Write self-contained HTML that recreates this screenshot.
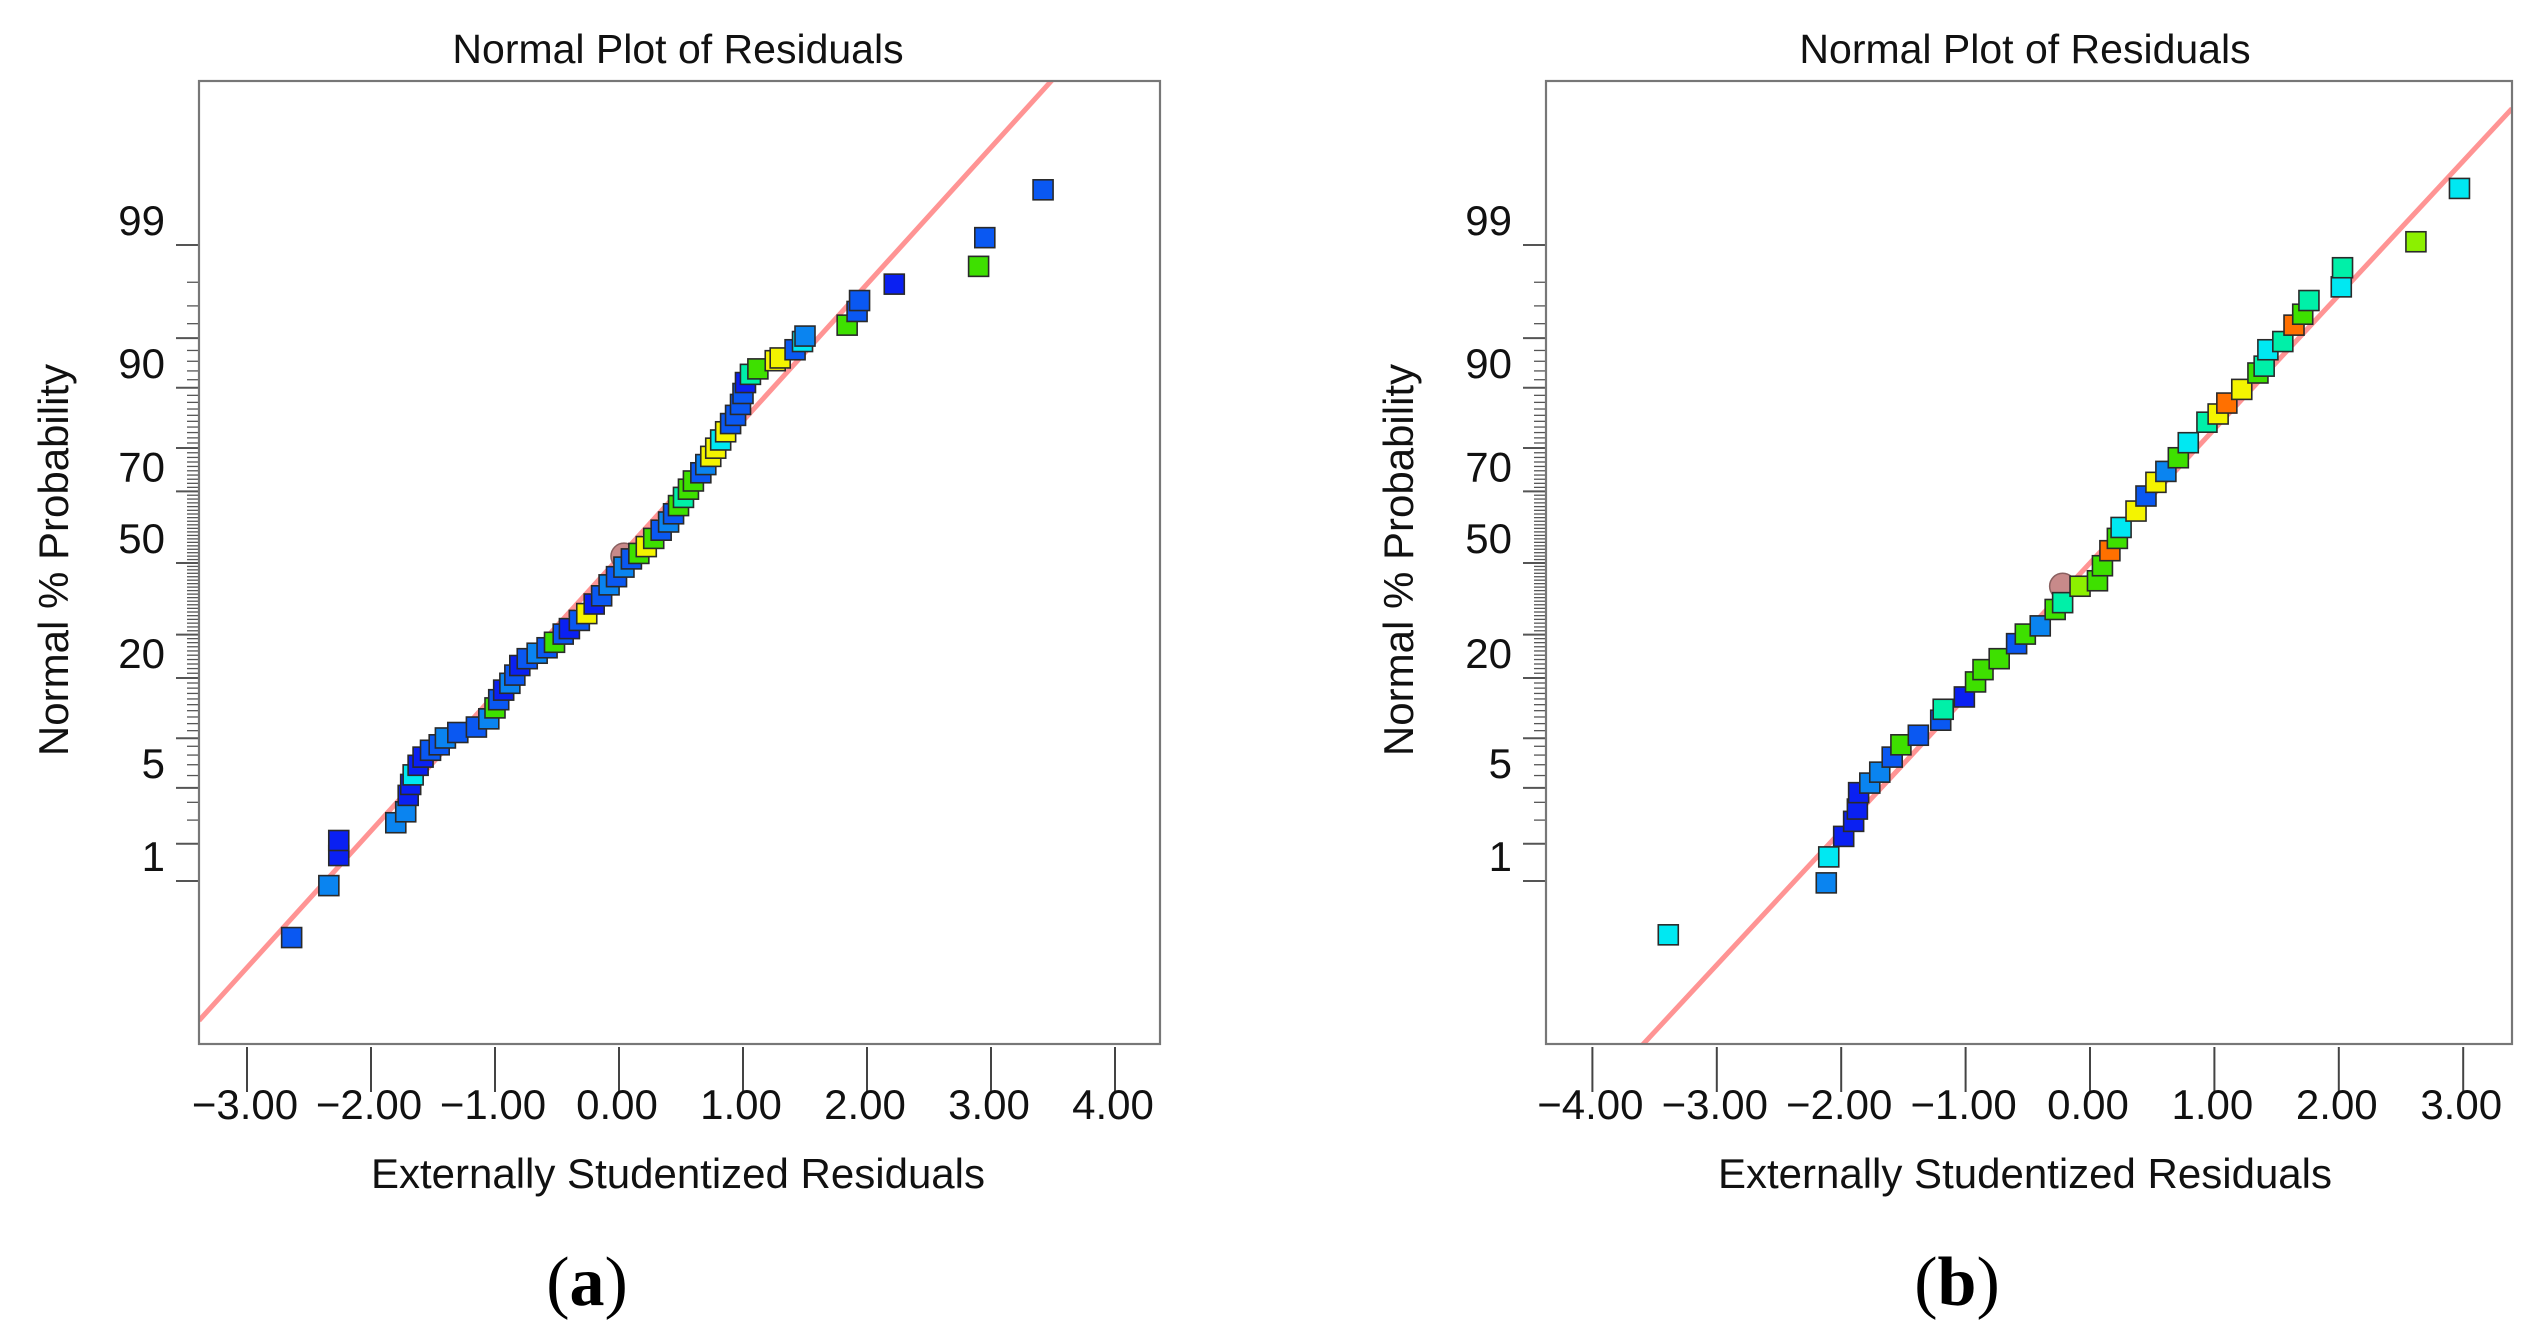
<!DOCTYPE html>
<html><head><meta charset="utf-8">
<style>
html,body{margin:0;padding:0;background:#fff;}
svg{display:block;font-family:"Liberation Sans","DejaVu Sans",sans-serif;}
</style></head>
<body>
<svg id="fig" width="2542" height="1335" viewBox="0 0 2542 1335" xmlns="http://www.w3.org/2000/svg">
<rect width="2542" height="1335" fill="#fff"/>
</svg>
<script>
// ---- data ----
const xTicksA = [-3, -2, -1, 0, 1, 2, 3, 4];
const xTicksB = [-4, -3, -2, -1, 0, 1, 2, 3];
const probTicks = [1,2,3,4,5,6,7,8,9,10,11,12,13,14,15,16,17,18,19,20,21,22,23,24,25,26,27,28,29,30,31,32,33,34,35,36,37,38,39,40,41,42,43,44,45,46,47,48,49,50,51,52,53,54,55,56,57,58,59,60,61,62,63,64,65,66,67,68,69,70,71,72,73,74,75,76,77,78,79,80,81,82,83,84,85,86,87,88,89,90,91,92,93,94,95,96,97,98,99];
const probMajor = [1,2,5,10,20,30,50,70,80,90,95,99];
const probLabels = [1,5,20,50,70,90,99];

const residA = [-2.64,-2.34,-2.26,-2.26,-1.80,-1.72,-1.70,-1.68,-1.66,-1.62,-1.58,-1.52,-1.45,-1.40,-1.30,-1.15,-1.05,-1.00,-0.97,-0.93,-0.88,-0.84,-0.80,-0.74,-0.66,-0.58,-0.52,-0.45,-0.40,-0.32,-0.26,-0.20,-0.14,-0.08,-0.02,0.04,0.10,0.16,0.22,0.28,0.34,0.40,0.44,0.48,0.52,0.56,0.60,0.66,0.70,0.74,0.78,0.82,0.86,0.90,0.94,0.98,1.00,1.02,1.06,1.12,1.26,1.30,1.42,1.48,1.50,1.84,1.92,1.94,2.22,2.90,2.95,3.42];
const scoreA = [-2.74,-2.36,-2.14,-2.03,-1.90,-1.82,-1.70,-1.62,-1.55,-1.48,-1.42,-1.37,-1.33,-1.28,-1.24,-1.20,-1.14,-1.06,-1.00,-0.93,-0.88,-0.82,-0.75,-0.70,-0.66,-0.62,-0.58,-0.52,-0.48,-0.42,-0.37,-0.30,-0.24,-0.16,-0.10,-0.03,0.03,0.07,0.12,0.18,0.24,0.30,0.36,0.42,0.48,0.54,0.60,0.66,0.72,0.78,0.84,0.90,0.96,1.02,1.08,1.16,1.24,1.32,1.38,1.42,1.48,1.50,1.56,1.62,1.66,1.74,1.84,1.92,2.04,2.17,2.38,2.73];
const colorA = ['B1','B2','B0','B0','B2','B2','B0','B0','C','B0','B0','B1','B1','B2','B1','B1','B2','G','B1','B0','B2','B1','B0','B1','B2','B1','G','B1','B0','B1','Y','B0','B1','B2','B1','B2','B1','G','Y','G','B1','B2','B1','G','T','G','G','B1','B2','Y','Y','C','Y','B1','B1','B1','B1','B0','T','G','Y','Y','B1','C','B2','G','B1','B1','B0','G','B1','B1'];

const residB = [-3.39,-2.12,-2.10,-1.98,-1.90,-1.87,-1.86,-1.77,-1.69,-1.59,-1.52,-1.38,-1.20,-1.18,-1.01,-0.92,-0.86,-0.73,-0.59,-0.52,-0.40,-0.28,-0.22,-0.08,0.06,0.10,0.16,0.22,0.25,0.37,0.45,0.53,0.61,0.71,0.79,0.94,1.03,1.10,1.22,1.35,1.40,1.43,1.55,1.64,1.71,1.76,2.02,2.03,2.62,2.97];
const scoreB = [-2.72,-2.34,-2.15,-2.00,-1.89,-1.80,-1.68,-1.61,-1.53,-1.42,-1.33,-1.26,-1.15,-1.07,-0.98,-0.87,-0.78,-0.70,-0.59,-0.52,-0.46,-0.34,-0.29,-0.17,-0.13,-0.02,0.09,0.18,0.26,0.38,0.49,0.59,0.67,0.77,0.88,1.03,1.09,1.17,1.27,1.39,1.44,1.56,1.62,1.74,1.82,1.92,2.02,2.16,2.35,2.74];
const colorB = ['C','B2','C','B0','B0','B0','B0','B2','B2','B1','G','B1','B1','T','B0','G','G','G','B1','G','B2','G','T','YG','G','G','O','G','C','Y','B1','Y','B2','G','C','T','Y','O','Y','G','T','C','T','O','G','T','C','T','YG','C'];

const centerA = [0.04, 0.05];
const centerB = [-0.22, -0.17];
const lineA = [1.0, 0.04];   // slope, intercept (normal score vs residual)
const lineB = [0.98, 0.0];

// ---- rendering ----
const NS = 'http://www.w3.org/2000/svg';
const svg = document.getElementById('fig');
const palette = {B0:'#0a20f2',B1:'#0a58f2',B2:'#0a84f0',C:'#00e8f2',T:'#00f0a8',G:'#3ee000',Y:'#f4f400',O:'#ff7000',YG:'#8cf000'};
function mk(tag, attrs, parent){const e=document.createElementNS(NS,tag);for(const k in attrs)e.setAttribute(k,attrs[k]);(parent||svg).appendChild(e);return e;}

function invNorm(p){
  const a=[-39.69683028665376,220.9460984245205,-275.9285104469687,138.3577518672690,-30.66479806614716,2.506628277459239];
  const b=[-54.47609879822406,161.5858368580409,-155.6989798598866,66.80131188771972,-13.28068155288572];
  const c=[-0.007784894002430293,-0.3223964580411365,-2.400758277161838,-2.549732539343734,4.374664141464968,2.938163982698783];
  const d=[0.007784695709041462,0.3224671290700398,2.445134137142996,3.754408661907416];
  const pl=0.02425;let q,r;
  if(p<pl){q=Math.sqrt(-2*Math.log(p));return (((((c[0]*q+c[1])*q+c[2])*q+c[3])*q+c[4])*q+c[5])/((((d[0]*q+d[1])*q+d[2])*q+d[3])*q+1);}
  if(p>1-pl){q=Math.sqrt(-2*Math.log(1-p));return -(((((c[0]*q+c[1])*q+c[2])*q+c[3])*q+c[4])*q+c[5])/((((d[0]*q+d[1])*q+d[2])*q+d[3])*q+1);}
  q=p-0.5;r=q*q;return (((((a[0]*r+a[1])*r+a[2])*r+a[3])*r+a[4])*r+a[5])*q/(((((b[0]*r+b[1])*r+b[2])*r+b[3])*r+b[4])*r+1);
}

function drawPanel(cfg){
  const g = mk('g',{});
  
  
  const yS = z => 563 - 136.7*z;
  const xS = r => cfg.x0 + cfg.unit*r;
  const clipId = cfg.name+'-clip';
  const cp = mk('clipPath',{id:clipId},g);
  mk('rect',{x:cfg.left,y:cfg.top,width:cfg.right-cfg.left,height:cfg.bottom-cfg.top},cp);

  const title = mk('text',{x:cfg.titleX,y:63,'text-anchor':'middle','font-size':41,fill:'#111'},g);
  title.textContent='Normal Plot of Residuals';
  
  

  probTicks.forEach(p=>{
    const y=yS(invNorm(p/100));
    const major=probMajor.includes(p);
    const t=mk('line',{x1:cfg.left-(major?23:12),x2:cfg.left,y1:y,y2:y,stroke:'#555','stroke-width':major?2:1.3},g);
    
    
  });
  probLabels.forEach(p=>{
    const y=yS(invNorm(p/100))-25;
    const t=mk('text',{x:cfg.left-34,y:y+15,'text-anchor':'end','font-size':42,fill:'#111'},g);
    t.textContent=String(p);
    
    
  });
  cfg.ticks.forEach(v=>{
    const x=xS(v);
    const t=mk('line',{x1:x,x2:x,y1:cfg.bottom+3,y2:cfg.bottom+48,stroke:'#444','stroke-width':2},g);
    
    
    const l=mk('text',{x:x-2,y:1119,'text-anchor':'middle','font-size':42,fill:'#111'},g);
    l.textContent=(v<0?'\u2212':'')+Math.abs(v).toFixed(2);
    
    
  });
  const xt=mk('text',{x:cfg.titleX,y:1188,'text-anchor':'middle','font-size':42,fill:'#111'},g);
  xt.textContent='Externally Studentized Residuals';
  
  
  const yt=mk('text',{x:0,y:0,'text-anchor':'middle','font-size':42,fill:'#111',transform:`translate(${cfg.yTitleX},560) rotate(-90)`},g);
  yt.textContent='Normal % Probability';
  
  

  const rL=(cfg.left-cfg.x0)/cfg.unit, rR=(cfg.right-cfg.x0)/cfg.unit;
  const ln=mk('line',{x1:xS(rL),y1:yS(cfg.line[0]*rL+cfg.line[1]),x2:xS(rR),y2:yS(cfg.line[0]*rR+cfg.line[1]),stroke:'#ff9494','stroke-width':5,'clip-path':`url(#${clipId})`},g);
  
  

  const cc=mk('circle',{cx:xS(cfg.center[0]),cy:yS(cfg.center[1]),r:13,fill:'#c88a8a',stroke:'#8a6060','stroke-width':1.5},g);
  
  

  cfg.res.forEach((r,i)=>{
    const s=20;
    const pt=mk('rect',{x:xS(r)-s/2,y:yS(cfg.score[i])-s/2,width:s,height:s,fill:palette[cfg.col[i]],stroke:'#2a2a2a','stroke-width':1.6},g);
    
    
  });

  const fr=mk('rect',{x:cfg.left,y:cfg.top,width:cfg.right-cfg.left,height:cfg.bottom-cfg.top,fill:'none',stroke:'#777','stroke-width':2.2},g);
  
  

  const pl=mk('text',{x:cfg.panelX,y:1305,'text-anchor':'middle','font-size':70,fill:'#000','font-family':'"Liberation Serif",serif'},g);
  pl.innerHTML='(<tspan font-weight="bold">'+cfg.letter+'</tspan>)';
  
  
}

drawPanel({name:'panel-a',left:199,right:1160,top:81,bottom:1044,x0:619,unit:124,ticks:xTicksA,titleX:678,yTitleX:68,
  res:residA,score:scoreA,col:colorA,center:centerA,line:lineA,panelX:587,letter:'a'});
drawPanel({name:'panel-b',left:1546,right:2512,top:81,bottom:1044,x0:2090,unit:124.4,ticks:xTicksB,titleX:2025,yTitleX:1413,
  res:residB,score:scoreB,col:colorB,center:centerB,line:lineB,panelX:1957,letter:'b'});
</script>
</body></html>
